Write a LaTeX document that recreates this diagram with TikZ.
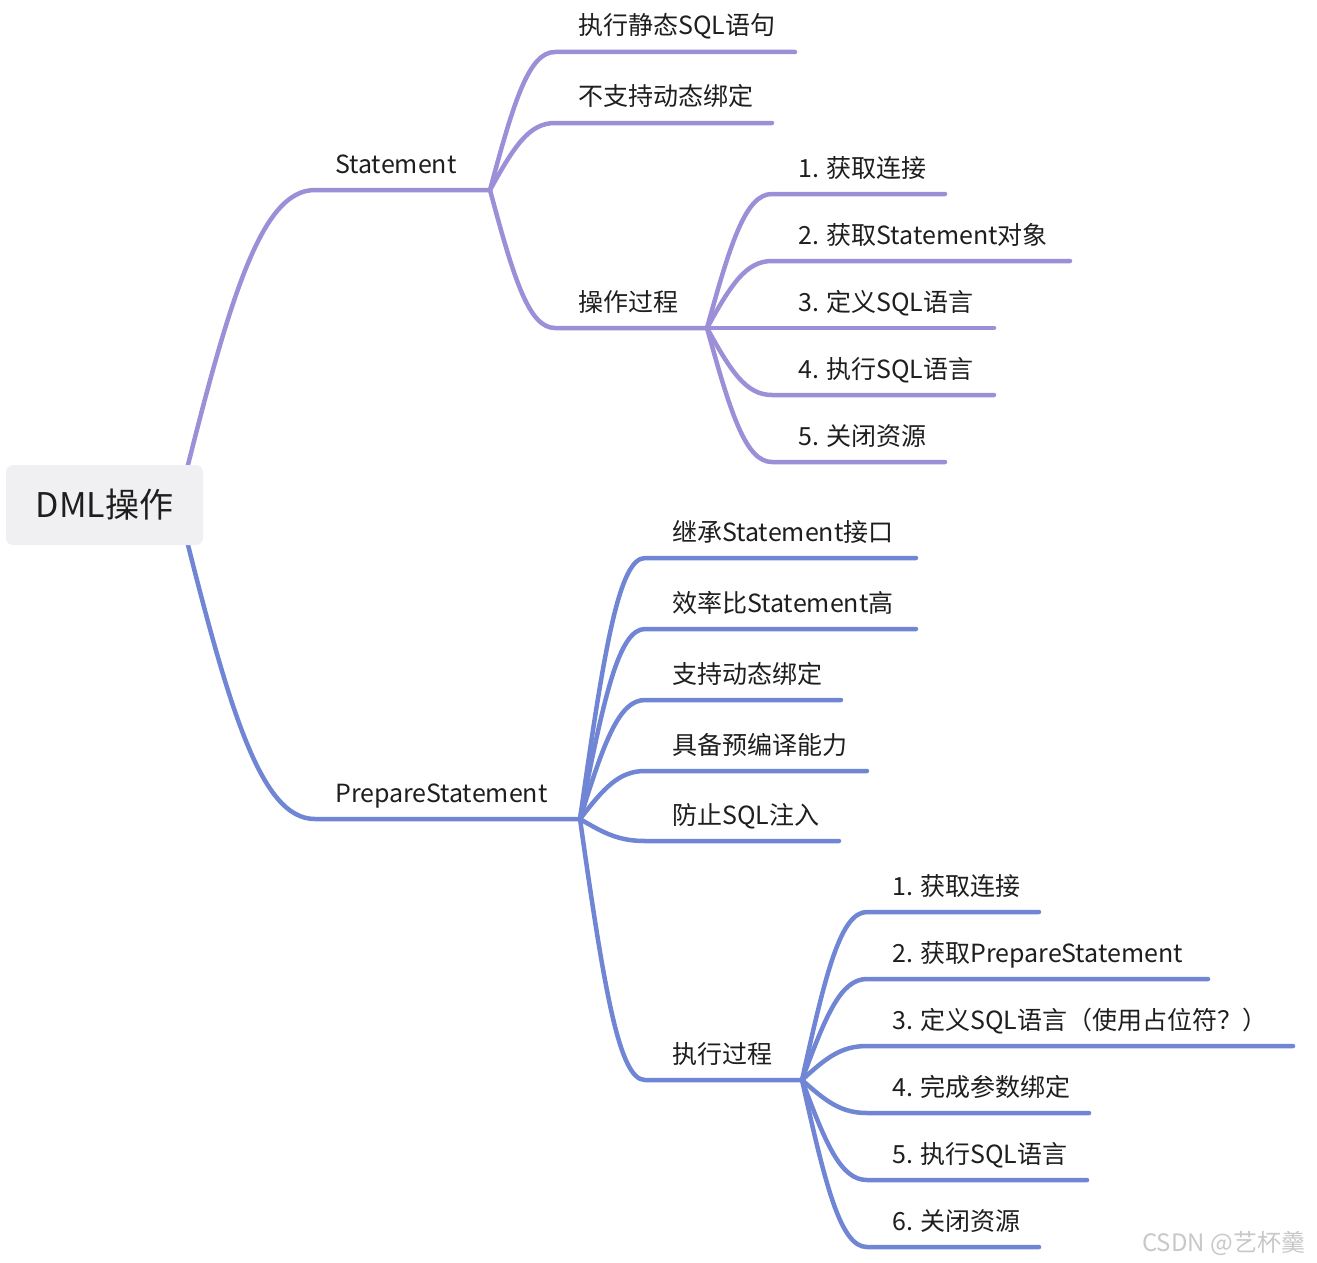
\documentclass[tikz,border=0pt]{standalone}
\usepackage{fontspec}
\setmainfont{Noto Sans CJK SC}
\usetikzlibrary{calc,backgrounds}
\definecolor{purp}{RGB}{156,143,216}
\definecolor{blu}{RGB}{112,134,212}
\definecolor{txt}{RGB}{30,30,30}
\definecolor{rootfill}{RGB}{240,240,242}
\definecolor{wmark}{RGB}{200,200,200}
\begin{document}
\begin{tikzpicture}[x=1pt,y=-1pt,
  lab/.style={anchor=base west,inner sep=0pt,text=txt,font=\fontsize{25}{30}\selectfont},
  pline/.style={draw=purp,line width=4.5pt,line cap=round,line join=round},
  bline/.style={draw=blu,line width=4.5pt,line cap=round,line join=round},
  rootbox/.style={fill=rootfill,rounded corners=7pt,minimum width=197pt,minimum height=80pt,inner sep=0pt,text=txt,font=\fontsize{34}{40}\selectfont},
  mm/.style={to path={let \p1=(\tikztostart),\p2=(\tikztotarget) in .. controls ({\x1+0.37*(\x2-\x1)},{\y1+0.65*(\y2-\y1)}) and ({\x2-0.4*(\x2-\x1)},{\y2}) .. (\tikztotarget)}}
]
\useasboundingbox (0,0) rectangle (1317,1263);

% root
\node[rootbox] (root) at (104.5,505) {DML操作};
\coordinate (r0) at (178,505);

% coordinates
\coordinate (s0) at (315,190);  \coordinate (J1) at (490,190);
\coordinate (p0) at (315,819);  \coordinate (J3) at (580,819);

\coordinate (a1) at (555,52);   \coordinate (a1e) at (795,52);
\coordinate (a2) at (555,123);  \coordinate (a2e) at (772,123);
\coordinate (a3) at (555,328);  \coordinate (J2) at (707,328);

\coordinate (b1) at (772,194);  \coordinate (b1e) at (945,194);
\coordinate (b2) at (772,261);  \coordinate (b2e) at (1070,261);
\coordinate (b3) at (772,328);  \coordinate (b3e) at (994,328);
\coordinate (b4) at (772,395);  \coordinate (b4e) at (994,395);
\coordinate (b5) at (772,462);  \coordinate (b5e) at (945,462);

\coordinate (c1) at (645,558);  \coordinate (c1e) at (916,558);
\coordinate (c2) at (645,629);  \coordinate (c2e) at (916,629);
\coordinate (c3) at (645,700);  \coordinate (c3e) at (841,700);
\coordinate (c4) at (645,771);  \coordinate (c4e) at (867,771);
\coordinate (c5) at (645,841);  \coordinate (c5e) at (839,841);
\coordinate (c6) at (645,1080); \coordinate (J4) at (802,1080);

\coordinate (d1) at (867,912);  \coordinate (d1e) at (1039,912);
\coordinate (d2) at (867,979);  \coordinate (d2e) at (1208,979);
\coordinate (d3) at (867,1046); \coordinate (d3e) at (1293,1046);
\coordinate (d4) at (867,1113); \coordinate (d4e) at (1089,1113);
\coordinate (d5) at (867,1180); \coordinate (d5e) at (1087,1180);
\coordinate (d6) at (867,1247); \coordinate (d6e) at (1039,1247);

% connectors from the root (behind the root box)
\begin{pgfonlayer}{background}
\draw[pline] (r0) to[mm] (s0) -- (J1);
\draw[bline] (r0) to[mm] (p0) -- (J3);
\end{pgfonlayer}

% Statement subtree
\draw[pline] (J1) to[mm] (a1) -- (a1e);
\draw[pline] (J1) to[mm] (a2) -- (a2e);
\draw[pline] (J1) to[mm] (a3) -- (J2);
\draw[pline] (J2) to[mm] (b1) -- (b1e);
\draw[pline] (J2) to[mm] (b2) -- (b2e);
\draw[pline] (J2) to[mm] (b3) -- (b3e);
\draw[pline] (J2) to[mm] (b4) -- (b4e);
\draw[pline] (J2) to[mm] (b5) -- (b5e);

% PrepareStatement subtree
\draw[bline] (J3) to[mm] (c1) -- (c1e);
\draw[bline] (J3) to[mm] (c2) -- (c2e);
\draw[bline] (J3) to[mm] (c3) -- (c3e);
\draw[bline] (J3) to[mm] (c4) -- (c4e);
\draw[bline] (J3) to[mm] (c5) -- (c5e);
\draw[bline] (J3) to[mm] (c6) -- (J4);
\draw[bline] (J4) to[mm] (d1) -- (d1e);
\draw[bline] (J4) to[mm] (d2) -- (d2e);
\draw[bline] (J4) to[mm] (d3) -- (d3e);
\draw[bline] (J4) to[mm] (d4) -- (d4e);
\draw[bline] (J4) to[mm] (d5) -- (d5e);
\draw[bline] (J4) to[mm] (d6) -- (d6e);

% labels
\node[lab] (tS)  at (335,173) {Statement};
\node[lab] (ta1) at (578,35)  {执行静态SQL语句};
\node[lab] (ta2) at (578,106) {不支持动态绑定};
\node[lab] (ta3) at (578,311) {操作过程};
\node[lab] (tb1) at (798,177) {1. 获取连接};
\node[lab] (tb2) at (798,244) {2. 获取Statement对象};
\node[lab] (tb3) at (798,311) {3. 定义SQL语言};
\node[lab] (tb4) at (798,378) {4. 执行SQL语言};
\node[lab] (tb5) at (798,445) {5. 关闭资源};

\node[lab] (tP)  at (335,802) {PrepareStatement};
\node[lab] (tc1) at (672,541) {继承Statement接口};
\node[lab] (tc2) at (672,612) {效率比Statement高};
\node[lab] (tc3) at (672,683) {支持动态绑定};
\node[lab] (tc4) at (672,754) {具备预编译能力};
\node[lab] (tc5) at (672,824) {防止SQL注入};
\node[lab] (tc6) at (672,1063) {执行过程};
\node[lab] (td1) at (892,895)  {1. 获取连接};
\node[lab] (td2) at (892,962)  {2. 获取PrepareStatement};
\node[lab] (td3) at (892,1029) {3. 定义SQL语言（使用占位符？）};
\node[lab] (td4) at (892,1096) {4. 完成参数绑定};
\node[lab] (td5) at (892,1163) {5. 执行SQL语言};
\node[lab] (td6) at (892,1230) {6. 关闭资源};

% watermark
\node[anchor=base west,inner sep=0pt,text=wmark,font=\fontsize{24}{28}\selectfont] (wm) at (1142,1251) {CSDN @艺杯羹};
\end{tikzpicture}
\end{document}
